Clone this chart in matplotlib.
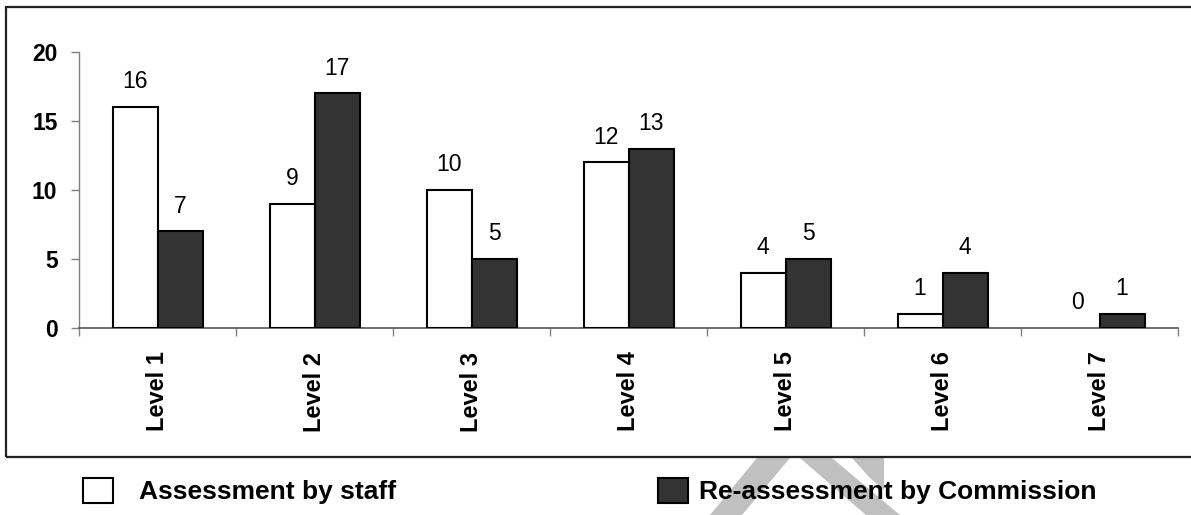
import numpy as np
import matplotlib
matplotlib.use("Agg")
import matplotlib.pyplot as plt
from matplotlib.patches import Rectangle, Polygon

plt.rcParams['font.family'] = ['Liberation Sans', 'DejaVu Sans']

# Data
levels = ["Level 1", "Level 2", "Level 3", "Level 4", "Level 5", "Level 6", "Level 7"]
staff = [16, 9, 10, 12, 4, 1, 0]
commission = [7, 17, 5, 13, 5, 4, 1]
series_names = ["Assessment by staff", "Re-assessment by Commission"]

W, H = 1191, 515
fig = plt.figure(figsize=(W / 100, H / 100), dpi=100)

# faint grey watermark fragment behind the legend
wm = "#c0c0c0"
for pts in ([(757, 458), (790, 458), (742, 515), (710, 515)],
            [(800, 458), (832, 458), (900, 515), (866, 515)],
            [(852, 458), (884, 458), (884, 490), (870, 478)]):
    fig.patches.append(Polygon([(x / W, 1 - y / H) for x, y in pts],
                               closed=True, transform=fig.transFigure,
                               facecolor=wm, edgecolor="none", zorder=0))

# chart frame (open on the right)
fig.patches.append(Rectangle((6 / W, 1 - 457 / H), 1.2, (457 - 7) / H,
                             transform=fig.transFigure, fill=False,
                             edgecolor="#222222", linewidth=1.6, zorder=1))

ax = fig.add_axes([79 / W, 1 - 328 / H, (1178 - 79) / W, (328 - 52) / H])
ax.patch.set_alpha(0)

x = np.arange(len(levels))
w = 45 / 157
b1 = ax.bar(x - w / 2, staff, w, color="white", edgecolor="black", linewidth=1.5,
            label=series_names[0], zorder=3)
b2 = ax.bar(x + w / 2, commission, w, color="#333333", edgecolor="black", linewidth=1.5,
            label=series_names[1], zorder=3)

for bars, vals in ((b1, staff), (b2, commission)):
    for r, v in zip(bars, vals):
        if v == 0:
            r.set_linewidth(0)  # empty bar: no outline on the axis
        ax.annotate(str(v), (r.get_x() + r.get_width() / 2, v),
                    xytext=(0, 13.5), textcoords="offset points",
                    ha="center", va="baseline", fontsize=16.5, color="black")

ax.set_xlim(-0.5, len(levels) - 0.5)
ax.set_ylim(0, 20)
ax.set_yticks([0, 5, 10, 15, 20])
ax.tick_params(axis="y", length=6, width=1, color="#808080", pad=9.5,
               labelsize=16.5)
for t in ax.get_yticklabels():
    t.set_fontweight("bold")

# tick marks between categories, labels at category centres
ax.set_xticks(np.arange(-0.5, len(levels)), labels=[""] * (len(levels) + 1))
ax.tick_params(axis="x", which="major", length=6, width=1, color="#808080")
ax.set_xticks(x, labels=levels, minor=True)
ax.tick_params(axis="x", which="minor", length=0, pad=17, labelsize=17)
for t in ax.get_xticklabels(minor=True):
    t.set_rotation(90)
    t.set_fontweight("bold")
    t.set_va("top")
    t.set_ha("center")

for s in ("top", "right"):
    ax.spines[s].set_visible(False)
ax.spines["left"].set_color("#808080")
ax.spines["bottom"].set_color("#555555")
ax.spines["left"].set_linewidth(1)
ax.spines["bottom"].set_linewidth(1.2)

# legend entries below the frame
for handle, name, x0, pad in ((b1, series_names[0], 83, 1.0),
                              (b2, series_names[1], 658, 0.45)):
    fig.legend([handle], [name], loc="center left",
               bbox_to_anchor=(x0 / W, 1 - 491 / H), frameon=False,
               borderpad=0, borderaxespad=0, handlelength=1.12, handleheight=1.12,
               handletextpad=pad, prop={"size": 19, "weight": "bold"})

fig.savefig("out.png", dpi=100)
